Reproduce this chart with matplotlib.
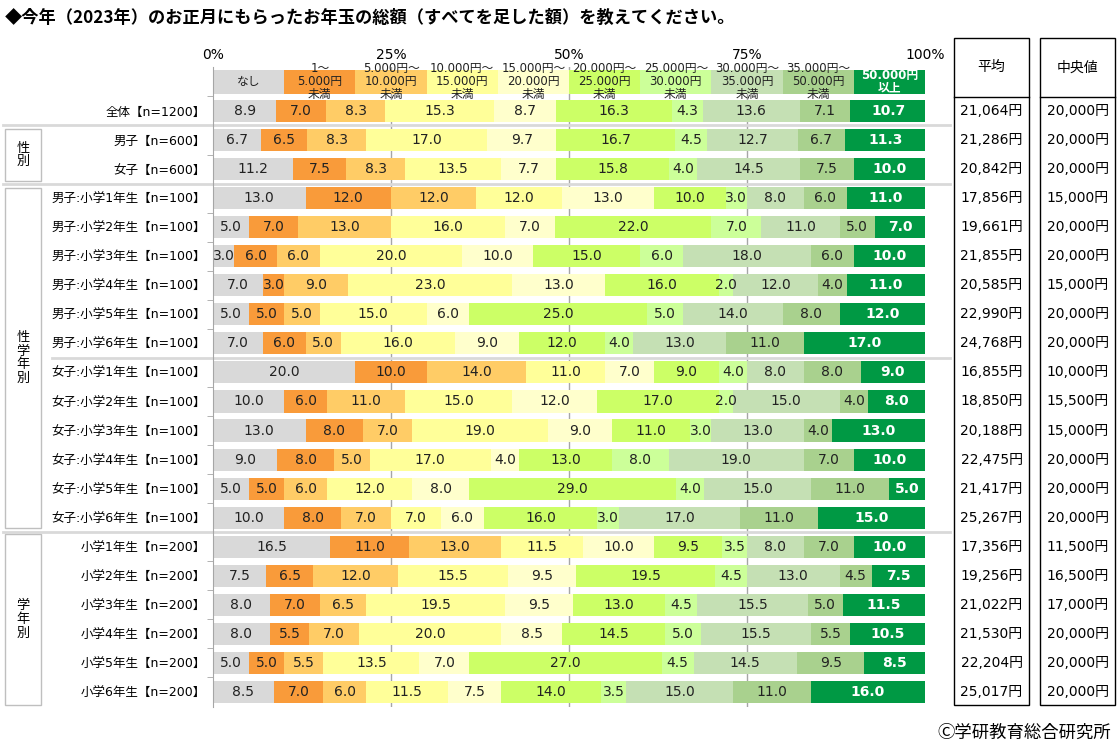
import matplotlib.pyplot as plt
from matplotlib.patches import Rectangle
from matplotlib.transforms import blended_transform_factory

plt.rcParams['font.family'] = ['Noto Sans CJK JP', 'DejaVu Sans']
num_font = ['DejaVu Sans', 'Noto Sans CJK JP']

title = "◆今年（2023年）のお正月にもらったお年玉の総額（すべてを足した額）を教えてください。"

categories = ["なし", "1～\n5.000円\n未満", "5.000円～\n10.000円\n未満", "10.000円～\n15.000円\n未満",
              "15.000円～\n20.000円\n未満", "20.000円～\n25.000円\n未満", "25.000円～\n30.000円\n未満",
              "30.000円～\n35.000円\n未満", "35.000円～\n50.000円\n未満", "50.000円\n以上"]
colors = ["#d9d9d9", "#f99b3a", "#ffcc66", "#ffff99", "#ffffcc",
          "#ccff66", "#ccff99", "#c5e0b4", "#a9d18e", "#009944"]

row_labels = ["全体【n=1200】", "男子【n=600】", "女子【n=600】",
              "男子:小学1年生【n=100】", "男子:小学2年生【n=100】", "男子:小学3年生【n=100】",
              "男子:小学4年生【n=100】", "男子:小学5年生【n=100】", "男子:小学6年生【n=100】",
              "女子:小学1年生【n=100】", "女子:小学2年生【n=100】", "女子:小学3年生【n=100】",
              "女子:小学4年生【n=100】", "女子:小学5年生【n=100】", "女子:小学6年生【n=100】",
              "小学1年生【n=200】", "小学2年生【n=200】", "小学3年生【n=200】",
              "小学4年生【n=200】", "小学5年生【n=200】", "小学6年生【n=200】"]

total_vals = [[8.9, 7.0, 8.3, 15.3, 8.7, 16.3, 4.3, 13.6, 7.1, 10.7]]
gender_vals = [[6.7, 6.5, 8.3, 17.0, 9.7, 16.7, 4.5, 12.7, 6.7, 11.3],
               [11.2, 7.5, 8.3, 13.5, 7.7, 15.8, 4.0, 14.5, 7.5, 10.0]]
boys_vals = [[13, 12, 12, 12, 13, 10, 3, 8, 6, 11],
             [5, 7, 13, 16, 7, 22, 7, 11, 5, 7],
             [3, 6, 6, 20, 10, 15, 6, 18, 6, 10],
             [7, 3, 9, 23, 13, 16, 2, 12, 4, 11],
             [5, 5, 5, 15, 6, 25, 5, 14, 8, 12],
             [7, 6, 5, 16, 9, 12, 4, 13, 11, 17]]
girls_vals = [[20, 10, 14, 11, 7, 9, 4, 8, 8, 9],
              [10, 6, 11, 15, 12, 17, 2, 15, 4, 8],
              [13, 8, 7, 19, 9, 11, 3, 13, 4, 13],
              [9, 8, 5, 17, 4, 13, 8, 19, 7, 10],
              [5, 5, 6, 12, 8, 29, 4, 15, 11, 5],
              [10, 8, 7, 7, 6, 16, 3, 17, 11, 15]]
grade_vals = [[16.5, 11, 13, 11.5, 10, 9.5, 3.5, 8, 7, 10],
              [7.5, 6.5, 12, 15.5, 9.5, 19.5, 4.5, 13, 4.5, 7.5],
              [8, 7, 6.5, 19.5, 9.5, 13, 4.5, 15.5, 5, 11.5],
              [8, 5.5, 7, 20, 8.5, 14.5, 5, 15.5, 5.5, 10.5],
              [5, 5, 5.5, 13.5, 7, 27, 4.5, 14.5, 9.5, 8.5],
              [8.5, 7, 6, 11.5, 7.5, 14, 3.5, 15, 11, 16]]

means = ["21,064円", "21,286円", "20,842円", "17,856円", "19,661円", "21,855円", "20,585円",
         "22,990円", "24,768円", "16,855円", "18,850円", "20,188円", "22,475円", "21,417円",
         "25,267円", "17,356円", "19,256円", "21,022円", "21,530円", "22,204円", "25,017円"]
medians = ["20,000円", "20,000円", "20,000円", "15,000円", "20,000円", "20,000円", "15,000円",
           "20,000円", "20,000円", "10,000円", "15,500円", "15,000円", "20,000円", "20,000円",
           "20,000円", "11,500円", "16,500円", "17,000円", "20,000円", "20,000円", "20,000円"]

values = total_vals + gender_vals + boys_vals + girls_vals + grade_vals

W, H = 1118, 750
fig = plt.figure(figsize=(W / 100, H / 100), dpi=100)


def fx(px):
    return px / W


def fy(py):
    return 1 - py / H


top_px, bot_px = 67.4, 706.5
ax = fig.add_axes([fx(213), fy(bot_px), (925 - 213) / W, (bot_px - top_px) / H])
ax.set_xlim(0, 100)
ax.set_ylim(20.5, -1.5)

# grid lines behind bars
for g in [25, 50, 75]:
    ax.axvline(g, color="#a6a6a6", lw=1, zorder=0)

# header row (legend)
for j, (cat, c) in enumerate(zip(categories, colors)):
    ax.barh(-1, 10, left=j * 10, height=0.82, color=c, zorder=2)
    tc = "white" if j == 9 else "#222222"
    fw = "bold" if j == 9 else "normal"
    ax.text(j * 10 + 5, -1, cat, ha="center", va="center", fontsize=8.5, color=tc,
            fontweight=fw, linespacing=1.0, family=num_font, zorder=4)

# data bars
for i, row in enumerate(values):
    left = 0
    for j, v in enumerate(row):
        ax.barh(i, v, left=left, height=0.76, color=colors[j], zorder=2)
        tc = "white" if j == 9 else "#222222"
        fw = "bold" if j == 9 else "normal"
        ax.text(left + v / 2, i, f"{v:.1f}", ha="center", va="center", fontsize=10,
                color=tc, fontweight=fw, family=num_font, zorder=4)
        left += v

ax.xaxis.tick_top()
ax.set_xticks([0, 25, 50, 75, 100])
ax.set_xticklabels(["0%", "25%", "50%", "75%", "100%"], fontsize=10, family=num_font)
ax.tick_params(axis="x", length=0, pad=4)
ax.set_yticks(range(len(row_labels)))
ax.set_yticklabels(row_labels, fontsize=9, family=num_font)
ax.tick_params(axis="y", length=0, pad=5)
ax.set_yticks([k + 0.5 for k in range(-1, 20)], minor=True)
ax.tick_params(axis="y", which="minor", length=4, color="#a6a6a6")
for s in ["top", "right", "bottom"]:
    ax.spines[s].set_visible(False)
ax.spines["left"].set_color("#a6a6a6")

bt = blended_transform_factory(fig.transFigure, ax.transData)

# group separators
for yb, x0 in [(0.5, 3), (2.5, 3), (8.5, 52), (14.5, 3)]:
    ax.plot([fx(x0), fx(950)], [yb, yb], transform=bt, color="#d9d9d9", lw=2, clip_on=False)

# group boxes
groups = [("性\n別", 0.62, 2.41), ("性\n学\n年\n別", 2.65, 14.35), ("学\n年\n別", 14.56, 20.45)]
for name, y0, y1 in groups:
    ax.add_patch(Rectangle((fx(5), y0), 36 / W, y1 - y0, transform=bt, fill=False,
                           ec="#bfbfbf", lw=1, clip_on=False))
    ax.text(fx(23), (y0 + y1) / 2, name, transform=bt, ha="center", va="center",
            fontsize=9.5, linespacing=1.05)

# mean / median tables
for x0, head, vals in [(954, "平均", means), (1040, "中央値", medians)]:
    ax.add_patch(Rectangle((fx(x0), -2.51), 75 / W, 22.96, transform=bt, fill=False,
                           ec="black", lw=1, clip_on=False))
    ax.plot([fx(x0), fx(x0 + 75)], [-0.48, -0.48], transform=bt, color="black", lw=1,
            clip_on=False)
    ax.text(fx(x0 + 37.5), -1.5, head, transform=bt, ha="center", va="center", fontsize=10)
    for i, t in enumerate(vals):
        ax.text(fx(x0 + 37.5), i, t, transform=bt, ha="center", va="center", fontsize=10,
                family=num_font)

fig.text(fx(5), fy(18), title, ha="left", va="center", fontsize=12.4, fontweight="bold")
fig.text(fx(1111), fy(733), "Ⓒ学研教育総合研究所", ha="right", va="center", fontsize=12.5)

fig.savefig("out.png", dpi=100)
